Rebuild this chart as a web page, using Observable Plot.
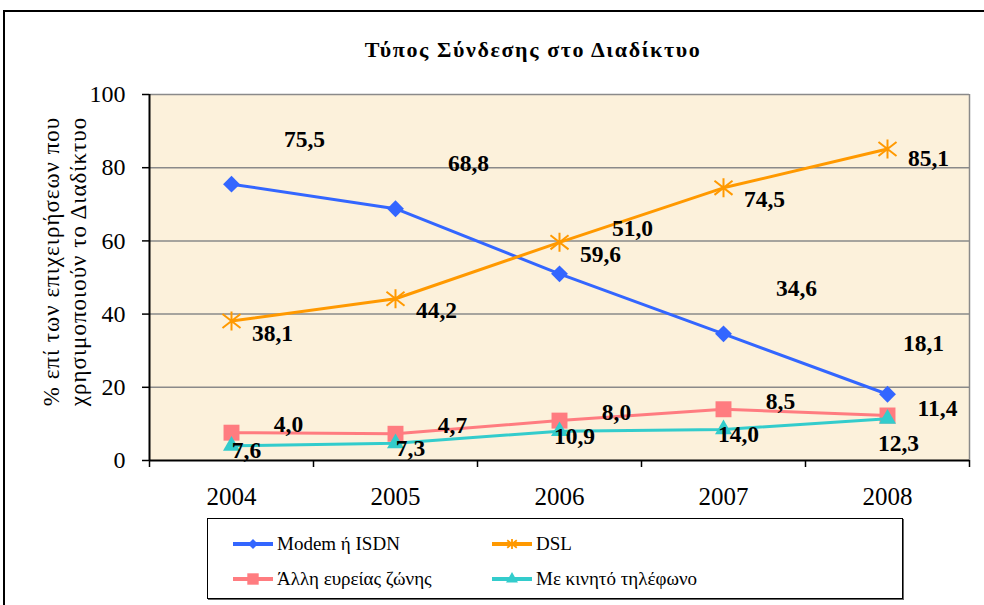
<!DOCTYPE html>
<html><head><meta charset="utf-8">
<script src="https://cdn.jsdelivr.net/npm/d3@7"></script>
<script src="https://cdn.jsdelivr.net/npm/@observablehq/plot@0.6"></script>
<style>
html,body{margin:0;padding:0;background:#fff;}
#wrap{position:relative;width:984px;height:605px;overflow:hidden;font-family:"Liberation Serif","Liberation Sans",Arial,sans-serif;color:#000;}
#outer{position:absolute;left:3px;top:10px;width:1100px;height:700px;border:2px solid #000;}
#chart{position:absolute;left:0;top:0;}
#title{position:absolute;left:183px;width:700px;top:37px;text-align:center;font-weight:bold;font-size:22px;letter-spacing:1.6px;line-height:26px;}
#legend{position:absolute;left:207px;top:518px;width:694px;height:79px;border:1.5px solid #000;background:#fff;box-shadow:1px 1px 0 #666;}
.entry{position:absolute;display:flex;align-items:center;font-size:19px;line-height:22px;white-space:nowrap;}
.entry svg{margin-right:3px;}
</style></head><body>
<div id="wrap"><div id="outer"></div><div id="chart"></div><div id="title"></div><div id="legend"></div></div>
<script>
// ---- data ----
const years = [2004, 2005, 2006, 2007, 2008];
const seriesNames = ["Modem ή ISDN", "DSL", "Άλλη ευρείας ζώνης", "Με κινητό τηλέφωνο"];
const modem = [75.5, 68.8, 51.0, 34.6, 18.1];
const dsl = [38.1, 44.2, 59.6, 74.5, 85.1];
const otherBroadband = [7.6, 7.3, 10.9, 14.0, 12.3];
const mobile = [4.0, 4.7, 8.0, 8.5, 11.4];
const yTicks = [0, 20, 40, 60, 80, 100];
const title = "Τύπος Σύνδεσης στο Διαδίκτυο";
const yLabel = "% επί των επιχειρήσεων που\nχρησιμοποιούν το Διαδίκτυο";
// labels as shown in the original (the two lowest series show each other's values)
const seriesValues = [modem, dsl, otherBroadband, mobile];
const seriesLabels = [modem, dsl, mobile, otherBroadband];

// ---- styles ----
const FONT = '"Liberation Serif","Liberation Sans",Arial,sans-serif';
const colors = ["#3366FF", "#FF9900", "#FF7C80", "#33CCCC"];
const asterisk = {draw(ctx, size) {
  const r = Math.sqrt(size / Math.PI), a = r * 0.95, b = r * 0.74;
  ctx.moveTo(-a, -b); ctx.lineTo(a, b);
  ctx.moveTo(a, -b); ctx.lineTo(-a, b);
  ctx.moveTo(0, -r); ctx.lineTo(0, r);
}};
const markStyle = [
  {symbol: "diamond2", r: 7.6, filled: true},
  {symbol: asterisk, r: 9.5, filled: false},
  {symbol: "square", r: 9, filled: true},
  {symbol: "triangle", r: 6.3, filled: true}
];
const labelOffsets = [
  {dx: 73, dy: -45, lastDx: 36, lastDy: -51},
  {dx: 41, dy: 12, lastDx: 41, lastDy: 9},
  {dx: 57, dy: -8, lastDx: 50, lastDy: -7},
  {dx: 15, dy: 5, lastDx: 11, lastDy: 25}
];

const fmt = v => v.toFixed(1).replace(".", ",");
const lastYear = years[years.length - 1];
const boundaries = [...years.map(y => y - 0.5), lastYear + 0.5];

const marks = [
  Plot.frame({fill: "#FCF1DB", stroke: "none"}),
  Plot.ruleY(yTicks.filter(t => t > 0), {stroke: "#8a8a8a", strokeWidth: 1.5}),
  Plot.ruleX([boundaries[boundaries.length - 1]], {stroke: "#8a8a8a", strokeWidth: 1.5}),
  Plot.ruleX([boundaries[0]], {stroke: "#000", strokeWidth: 2}),
  Plot.ruleY([0], {stroke: "#000", strokeWidth: 2}),
  Plot.axisY({ticks: yTicks, tickSize: 7, tickPadding: 17, tickFormat: d => String(d), label: null, fontSize: 24, stroke: "#000", strokeWidth: 1.5}),
  Plot.axisX({ticks: boundaries, tickSize: 7, tickFormat: () => "", label: null, stroke: "#000", strokeWidth: 1.5}),
  Plot.axisX({ticks: years, tickSize: 0, tickPadding: 27, tickFormat: d => String(d), label: null, fontSize: 25}),
  Plot.text([yLabel], {text: d => d, frameAnchor: "left", textAnchor: "middle", lineAnchor: "middle", rotate: -90, dx: -86, dy: -16, fontSize: 23, lineHeight: 1.17})
];

seriesNames.forEach((name, i) => {
  const rows = years.map((year, j) => ({year, value: seriesValues[i][j], label: fmt(seriesLabels[i][j])}));
  const st = markStyle[i];
  marks.push(Plot.line(rows, {x: "year", y: "value", stroke: colors[i], strokeWidth: 3}));
  marks.push(Plot.dot(rows, {x: "year", y: "value", symbol: st.symbol, r: st.r,
    fill: st.filled ? colors[i] : "none", stroke: st.filled ? "none" : colors[i], strokeWidth: 2}));
});
seriesNames.forEach((name, i) => {
  const rows = years.map((year, j) => ({year, value: seriesValues[i][j], label: fmt(seriesLabels[i][j])}));
  const o = labelOffsets[i];
  marks.push(Plot.text(rows, {filter: d => d.year !== lastYear, x: "year", y: "value", text: "label", dx: o.dx, dy: o.dy, fontSize: 23.5, fontWeight: "bold"}));
  marks.push(Plot.text(rows, {filter: d => d.year === lastYear, x: "year", y: "value", text: "label", dx: o.lastDx, dy: o.lastDy, fontSize: 23.5, fontWeight: "bold"}));
});

const chart = Plot.plot({
  width: 984, height: 605,
  marginLeft: 149, marginRight: 15, marginTop: 94, marginBottom: 145,
  x: {type: "linear", domain: [boundaries[0], boundaries[boundaries.length - 1]]},
  y: {domain: [0, 100]},
  style: {fontFamily: FONT, fontSize: "20px", background: "transparent", color: "#000", overflow: "visible"},
  marks
});
d3.select(chart).selectAll("text").filter(function() { return this.textContent.includes("επιχειρήσεων"); })
  .attr("letter-spacing", "1px");
document.getElementById("chart").appendChild(chart);
document.getElementById("title").textContent = title;

// ---- legend ----
const legend = document.getElementById("legend");
const legendPos = [{left: 24, top: 14}, {left: 283, top: 14}, {left: 24, top: 49}, {left: 283, top: 49}];
const legendSymbols = [d3.symbolDiamond2, asterisk, d3.symbolSquare, d3.symbolTriangle];
const legendSizes = [65, 80, 130, 62];
seriesNames.forEach((name, i) => {
  const e = document.createElement("div");
  e.className = "entry";
  e.style.left = legendPos[i].left + "px";
  e.style.top = legendPos[i].top + "px";
  const path = d3.symbol(legendSymbols[i], legendSizes[i])();
  const filled = markStyle[i].filled;
  e.innerHTML = `<svg width="42" height="20" viewBox="-21 -10 42 20"><line x1="-20" x2="20" y1="0" y2="0" stroke="${colors[i]}" stroke-width="4"/><path d="${path}" fill="${filled ? colors[i] : "none"}" stroke="${filled ? "none" : colors[i]}" stroke-width="1.8"/></svg><span></span>`;
  e.querySelector("span").textContent = name;
  legend.appendChild(e);
});
</script>
</body></html>
